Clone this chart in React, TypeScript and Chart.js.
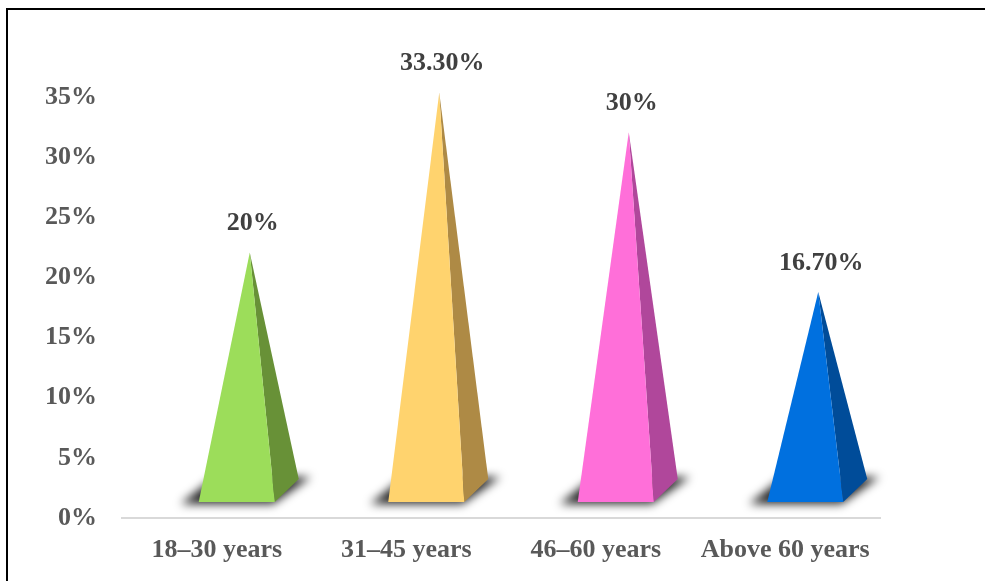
import React, { useEffect, useRef } from "react";
import { Chart, registerables } from "chart.js";

Chart.register(...registerables);

const categories = ["18–30 years", "31–45 years", "46–60 years", "Above 60 years"];
const values = [20, 33.3, 30, 16.7];
const valueLabels = ["20%", "33.30%", "30%", "16.70%"];
const frontColors = ["#9CDD5A", "#FFD36E", "#FF6FD9", "#0070DF"];
const sideColors = ["#689137", "#AE8A45", "#B0479B", "#004C99"];
const yTicks = [0, 5, 10, 15, 20, 25, 30, 35];

const FONT = "'Liberation Serif', 'Times New Roman', serif";

const pyramidPlugin = {
  id: "pyramids",
  afterDatasetsDraw(chart: any) {
    const ctx = chart.ctx;
    const meta = chart.getDatasetMeta(0);
    const yScale = chart.scales.y;
    const y0 = yScale.getPixelForValue(0);
    meta.data.forEach((el: any, i: number) => {
      const c = el.x;
      const yv = yScale.getPixelForValue(values[i]);
      const fl = c - 18;
      const fr = c + 58;
      const br = c + 82;
      const bl = c + 6;
      const baseY = y0 - 16;
      const backY = baseY - 23;
      const ax = c + 33;
      const ay = yv - 25;

      // shadow
      ctx.save();
      ctx.filter = "blur(5px)";
      ctx.fillStyle = "rgba(0,0,0,0.85)";
      ctx.beginPath();
      ctx.moveTo(fl - 18, baseY + 2);
      ctx.lineTo(fr - 2, baseY + 2);
      ctx.lineTo(br + 12, backY - 2);
      ctx.lineTo(bl - 8, backY - 2);
      ctx.closePath();
      ctx.fill();
      ctx.restore();

      // side face
      ctx.save();
      ctx.fillStyle = sideColors[i];
      ctx.beginPath();
      ctx.moveTo(fr, baseY);
      ctx.lineTo(br, backY);
      ctx.lineTo(ax, ay);
      ctx.closePath();
      ctx.fill();

      // front face
      ctx.fillStyle = frontColors[i];
      ctx.beginPath();
      ctx.moveTo(fl, baseY);
      ctx.lineTo(fr, baseY);
      ctx.lineTo(ax, ay);
      ctx.closePath();
      ctx.fill();

      // label
      ctx.fillStyle = "#404040";
      ctx.font = `bold 26px ${FONT}`;
      ctx.textAlign = "center";
      ctx.textBaseline = "middle";
      ctx.fillText(valueLabels[i], ax + 3, ay - 29);
      ctx.restore();
    });
  },
};

export default function App() {
  const canvasRef = useRef<HTMLCanvasElement | null>(null);

  useEffect(() => {
    if (!canvasRef.current) return;
    const chart = new Chart(canvasRef.current, {
      type: "bar",
      data: {
        labels: categories,
        datasets: [
          {
            data: values,
            backgroundColor: "rgba(0,0,0,0)",
            borderWidth: 0,
          },
        ],
      },
      options: {
        responsive: false,
        animation: false,
        layout: { padding: { top: 97, left: 0, right: 105, bottom: 0 } },
        plugins: {
          legend: { display: false },
          tooltip: { enabled: false },
        },
        scales: {
          x: {
            grid: { display: false, drawTicks: false },
            border: { display: true, color: "#D9D9D9", width: 2 },
            ticks: {
              color: "#595959",
              font: { family: FONT, size: 26, weight: "bold" },
              padding: 17,
              maxRotation: 0,
              autoSkip: false,
            },
            afterFit: (s: any) => {
              s.height = 63;
            },
          },
          y: {
            min: 0,
            max: 35,
            afterBuildTicks: (s: any) => {
              s.ticks = yTicks.map((v) => ({ value: v }));
            },
            grid: { display: false, drawTicks: false },
            border: { display: false },
            ticks: {
              color: "#595959",
              font: { family: FONT, size: 26, weight: "bold" },
              padding: 25,
              callback: (v: any) => `${v}%`,
            },
            afterFit: (s: any) => {
              s.width = 122;
            },
          },
        },
      },
      plugins: [pyramidPlugin],
    });
    return () => chart.destroy();
  }, []);

  return (
    <div style={{ position: "fixed", left: 0, top: 0, width: 985, height: 581, overflow: "hidden", background: "#fff" }}>
      <canvas ref={canvasRef} width={985} height={581} style={{ position: "absolute", left: 0, top: 0 }} />
      <div
        style={{
          position: "absolute",
          left: 6,
          top: 8,
          width: 1000,
          height: 700,
          borderTop: "2px solid #000",
          borderLeft: "2px solid #000",
          pointerEvents: "none",
        }}
      />
    </div>
  );
}
